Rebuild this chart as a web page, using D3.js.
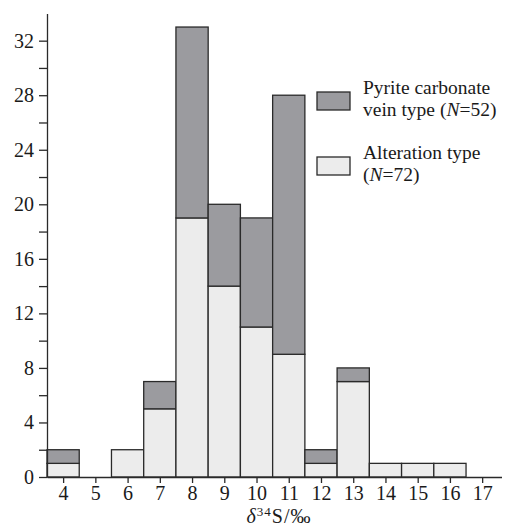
<!DOCTYPE html>
<html>
<head>
<meta charset="utf-8">
<script src="https://d3js.org/d3.v7.min.js"></script>
<style>
  * { margin: 0; padding: 0; }
  body { background: #fff; width: 512px; height: 529px; overflow: hidden; }
  svg text { font-family: 'Liberation Serif', 'Times New Roman', serif; fill: #1a1a1a; }
</style>
</head>
<body>
<div id="chart"></div>
<script>
// delta34S bins and counts per type
const bins = [4, 5, 6, 7, 8, 9, 10, 11, 12, 13, 14, 15, 16];
const alteration = [1, 0, 2, 5, 19, 14, 11, 9, 1, 7, 1, 1, 1];
const pyriteVein = [1, 0, 0, 2, 14, 6, 8, 19, 1, 1, 0, 0, 0];
const xTicks = [4, 5, 6, 7, 8, 9, 10, 11, 12, 13, 14, 15, 16, 17];
const yTicks = [0, 2, 4, 6, 8, 10, 12, 14, 16, 18, 20, 22, 24, 26, 28, 30, 32];
const legendLabels = [
  ["Pyrite carbonate", "vein type (", "N", "=52)"],
  ["Alteration type", "(", "N", "=72)"]
];
const colors = { pyrite: "#9b9b9f", alteration: "#ececec", stroke: "#2a2a2a" };

const w = 512, h = 529;
const svg = d3.select("#chart").append("svg").attr("width", w).attr("height", h);

const x = d3.scaleLinear().domain([3.5, 17.6]).range([47, 501.5]);
const y = d3.scaleLinear().domain([0, 34]).range([477, 13.4]);

// stacked bars
const rows = bins.map((b, i) => ({ bin: b, alt: alteration[i], pyr: pyriteVein[i] }));
const g = svg.append("g");
rows.forEach(d => {
  if (d.alt > 0) {
    g.append("rect")
      .attr("x", x(d.bin - 0.5)).attr("width", x(d.bin + 0.5) - x(d.bin - 0.5))
      .attr("y", y(d.alt)).attr("height", y(0) - y(d.alt))
      .attr("fill", colors.alteration).attr("stroke", colors.stroke).attr("stroke-width", 1.3);
  }
  if (d.pyr > 0) {
    g.append("rect")
      .attr("x", x(d.bin - 0.5)).attr("width", x(d.bin + 0.5) - x(d.bin - 0.5))
      .attr("y", y(d.alt + d.pyr)).attr("height", y(d.alt) - y(d.alt + d.pyr))
      .attr("fill", colors.pyrite).attr("stroke", colors.stroke).attr("stroke-width", 1.3);
  }
});

// axes
const xAxis = d3.axisBottom(x).tickValues(xTicks).tickSize(6).tickPadding(3).tickSizeOuter(0);
const yAxis = d3.axisLeft(y).tickValues(yTicks).tickSize(8).tickPadding(5).tickSizeOuter(0)
  .tickFormat(d => d % 4 === 0 ? d : "");

const gx = svg.append("g").attr("transform", "translate(0," + y(0) + ")").call(xAxis);
const gy = svg.append("g").attr("transform", "translate(" + x(3.5) + ",0)").call(yAxis);
[gx, gy].forEach(a => {
  a.selectAll("path, line").attr("stroke", colors.stroke).attr("stroke-width", 1.3);
  a.selectAll("text").style("font-size", "20px").attr("fill", "#1a1a1a");
});

// x title: δ34S/‰
const xt = svg.append("text").attr("x", 279).attr("y", 523).attr("text-anchor", "middle")
  .style("font-size", "20px").style("letter-spacing", "1px");
xt.append("tspan").style("font-style", "italic").text("δ");
xt.append("tspan").attr("dy", -7).style("font-size", "13px").text("34");
xt.append("tspan").attr("dy", 7).text("S/‰");

// legend
const legY = [92, 157];
const fills = [colors.pyrite, colors.alteration];
legendLabels.forEach((lab, i) => {
  svg.append("rect").attr("x", 317).attr("y", legY[i]).attr("width", 33).attr("height", 18)
    .attr("fill", fills[i]).attr("stroke", colors.stroke).attr("stroke-width", 1.3);
  svg.append("text").attr("x", 363).attr("y", legY[i] + 2).style("font-size", "19.5px").text(lab[0]);
  const t = svg.append("text").attr("x", 363).attr("y", legY[i] + 24).style("font-size", "19.5px");
  t.append("tspan").text(lab[1]);
  t.append("tspan").style("font-style", "italic").text(lab[2]);
  t.append("tspan").text(lab[3]);
});
</script>
</body>
</html>
